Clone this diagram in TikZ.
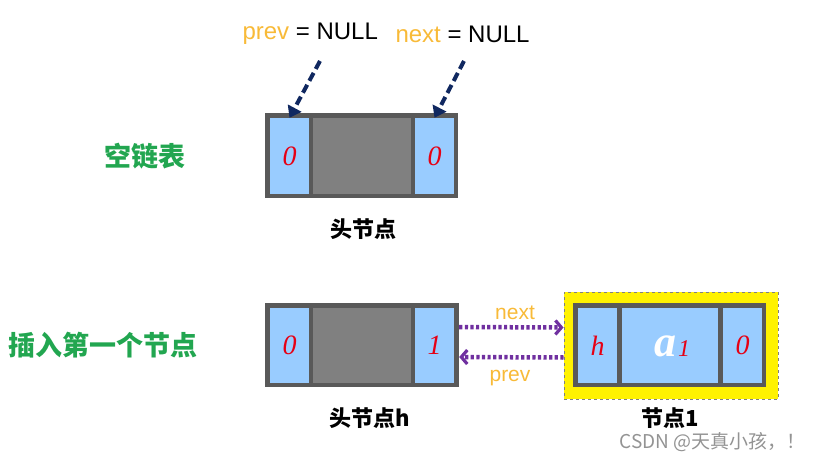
\documentclass[tikz,border=0pt]{standalone}
\usepackage{fontspec}
\setmainfont{Liberation Sans}
\newfontfamily\numfont{Liberation Serif}
\newfontfamily\cjk{Noto Sans CJK SC}
\usetikzlibrary{arrows.meta,calc}
\definecolor{cellblue}{RGB}{153,204,255}
\definecolor{edge}{RGB}{89,89,89}
\definecolor{midgray}{RGB}{128,128,128}
\definecolor{navy}{RGB}{16,40,96}
\definecolor{purp}{RGB}{112,48,160}
\definecolor{orng}{RGB}{248,186,56}
\definecolor{grn}{RGB}{34,166,80}
\definecolor{numred}{RGB}{230,0,20}
\begin{document}
\begin{tikzpicture}[x=1pt,y=-1pt,
  outerbox/.style={fill=edge,draw=none,inner sep=0pt},
  cellbox/.style={fill=cellblue,draw=none,inner sep=0pt,minimum width=39pt,font=\numfont\itshape\fontsize{28}{28}\selectfont,text=numred},
  graybox/.style={fill=midgray,draw=none,inner sep=0pt},
  navyarrow/.style={navy,line width=4pt,dash pattern=on 9pt off 4.5pt,-{Triangle[length=11pt,width=15pt]}},
  ptr/.style={purp,line width=4.5pt,dash pattern=on 3.2pt off 2.4pt,-{Straight Barb[length=6pt,width=14pt,line width=3.2pt]}},
  lbl/.style={font=\cjk\bfseries\fontsize{22}{22}\selectfont,text=black},
  grnlbl/.style={font=\cjk\bfseries\fontsize{27}{27}\selectfont,text=grn},
  eng/.style={font=\fontsize{24}{24}\selectfont}]
\useasboundingbox (0,0) rectangle (825,463);
% top empty list
\node[outerbox,minimum width=193pt,minimum height=85pt] (ha) at (361.5,155.5) {};
\node[cellbox,minimum height=76pt] (hap) at (289.5,156) {0};
\node[graybox,minimum width=98pt,minimum height=76pt] (had) at (362,156) {};
\node[cellbox,minimum height=76pt] (han) at (434.5,156) {0};
\node[lbl] (hal) at (363,229) {头节点};
\node[eng,anchor=west,text=orng] (pv) at (239,34) {prev \textcolor{black}{= NULL}};
\node[eng,anchor=west,text=orng] (nx) at (392,34) {next \textcolor{black}{= NULL}};
\coordinate (s1) at (320,61);
\coordinate (s2) at (464,61);
\draw[navyarrow] (s1) -- (hap.north);
\draw[navyarrow] (s2) -- (han.north);
\node[grnlbl] (t1) at (145,156) {空链表};
% bottom
\node[outerbox,minimum width=194pt,minimum height=84pt] (hb) at (362,345) {};
\node[cellbox,minimum height=75pt] (hbp) at (289.5,345.5) {0};
\node[graybox,minimum width=98pt,minimum height=75pt] (hbd) at (362,345.5) {};
\node[cellbox,minimum height=75pt] (hbn) at (434.5,345.5) {1};
\node[lbl] (hbl) at (370,418) {头节点h};
\node[fill=yellow,draw=gray,dashed,line width=1pt,inner sep=0pt,minimum width=214pt,minimum height=107pt] (yel) at (671,345.5) {};
\node[outerbox,minimum width=193pt,minimum height=84pt] (n1) at (669.5,345) {};
\node[cellbox,minimum height=75pt] (n1p) at (597.5,345.5) {h};
\node[cellbox,minimum width=96pt,minimum height=75pt] (n1d) at (670,345.5) {};
\node[cellbox,minimum height=75pt] (n1n) at (742.5,345.5) {0};
\node[font=\numfont\bfseries\itshape\fontsize{44}{44}\selectfont,text=white,inner sep=0pt,anchor=base] (a) at (665,356) {a};
\node[font=\numfont\itshape\fontsize{24}{24}\selectfont,text=numred,inner sep=0pt,anchor=base] (a1) at (684,356) {1};
\node[lbl] (n1l) at (670,418) {节点1};
\draw[ptr] ([yshift=18pt]hb.east) -- ([yshift=18pt]yel.west);
\draw[ptr] ([yshift=-12pt]yel.west) -- ([yshift=-12pt]hb.east);
\node[text=orng,font=\fontsize{21}{21}\selectfont] (nxl) at (515,313) {next};
\node[text=orng,font=\fontsize{21}{21}\selectfont] (pvl) at (510,378) {prev};
\node[grnlbl] (t2) at (103,345) {插入第一个节点};
\node[font=\cjk\fontsize{19}{19}\selectfont,text=gray!85,anchor=west] (wm) at (616,442) {CSDN @天真小孩，！};
\end{tikzpicture}
\end{document}
